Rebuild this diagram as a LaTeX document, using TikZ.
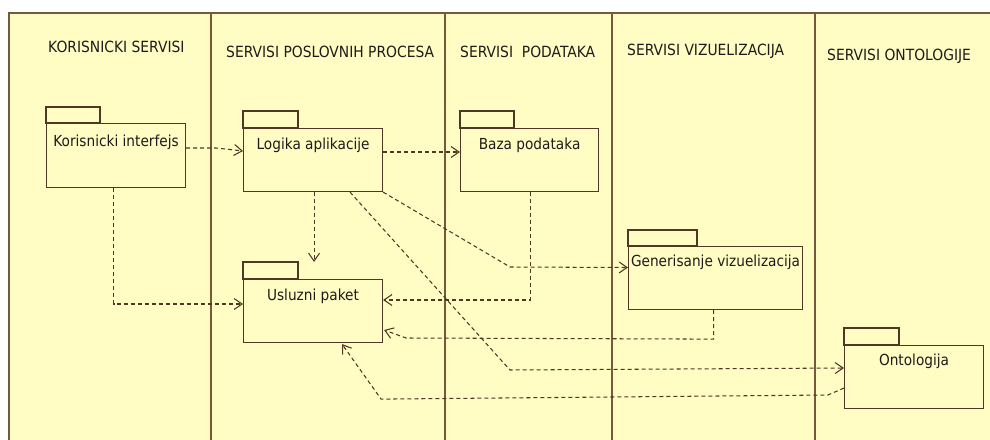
\documentclass[tikz,border=0pt]{standalone}
\usepackage{fontspec}
\setmainfont{DejaVu Sans}[FakeStretch=0.9]
\usetikzlibrary{arrows.meta,calc}
\definecolor{bgyellow}{RGB}{255,252,196}
\definecolor{framebrown}{RGB}{118,88,58}
\definecolor{linebrown}{RGB}{80,55,35}
\definecolor{txt}{RGB}{30,28,25}
\begin{document}
\begin{tikzpicture}[x=1pt,y=-1pt,
  frame/.style={draw=framebrown,line width=1.3pt},
  pkg/.style={draw=linebrown,fill=bgyellow,line width=1.1pt,inner sep=0pt,anchor=north west},
  tabbox/.style={draw=linebrown,fill=bgyellow,line width=1.1pt},
  pkgtext/.style={anchor=base,text=txt,inner sep=0pt,font=\fontsize{15.2}{18}\selectfont},
  lanetitle/.style={anchor=west,text=txt,inner sep=0pt,font=\fontsize{15.4}{18}\selectfont},
  dep/.style={draw=linebrown,line width=1.05pt,dash pattern=on 4pt off 3pt,
              -{Straight Barb[length=8pt,width=11pt,line width=1.05pt]}}]
\useasboundingbox (0,0) rectangle (990,439);
\clip (0,0) rectangle (990,439);
\fill[white] (0,0) rectangle (990,439);
% frame and swimlanes
\path[frame,fill=bgyellow] (9,13) rectangle (1000,450);
\draw[frame] (211,13) -- (211,450);
\draw[frame] (445,13) -- (445,450);
\draw[frame] (612,13) -- (612,450);
\draw[frame] (815,13) -- (815,450);
% lane titles
\node[lanetitle] (t1) at (48,47) {KORISNICKI SERVISI};
\node[lanetitle] (t2) at (226,51.5) {SERVISI POSLOVNIH PROCESA};
\node[lanetitle] (t3) at (460,51.5) {SERVISI\ \ PODATAKA};
\node[lanetitle] (t4) at (627,51.5) {SERVISI VIZUELIZACIJA};
\node[lanetitle] (t5) at (827,56) {SERVISI ONTOLOGIJE};
% packages
\node[pkg,minimum width=139pt,minimum height=64pt] (KI) at (46,123) {};
\draw[tabbox] (KI.north west) rectangle ++(54,-16);
\node[pkgtext] (KIt) at ($(KI.north)+(0,23.5)$) {Korisnicki interfejs};

\node[pkg,minimum width=139pt,minimum height=63pt] (LA) at (243,128) {};
\draw[tabbox] (LA.north west) rectangle ++(55,-17);
\node[pkgtext] (LAt) at ($(LA.north)+(0,21.5)$) {Logika aplikacije};

\node[pkg,minimum width=138pt,minimum height=63pt] (BP) at (460,128) {};
\draw[tabbox] (BP.north west) rectangle ++(54,-17);
\node[pkgtext] (BPt) at ($(BP.north)+(0,21.3)$) {Baza podataka};

\node[pkg,minimum width=139pt,minimum height=63pt] (UP) at (243,279) {};
\draw[tabbox] (UP.north west) rectangle ++(55,-17);
\node[pkgtext] (UPt) at ($(UP.north)+(0,21)$) {Usluzni paket};

\node[pkg,minimum width=174pt,minimum height=63pt] (GV) at (628,246) {};
\draw[tabbox] (GV.north west) rectangle ++(69,-16);
\node[pkgtext] (GVt) at ($(GV.north)+(0,20.7)$) {Generisanje vizuelizacija};

\node[pkg,minimum width=139pt,minimum height=63pt] (ON) at (844,345) {};
\draw[tabbox] (ON.north west) rectangle ++(55,-17);
\node[pkgtext] (ONt) at ($(ON.north)+(0,20.7)$) {Ontologija};

% dependencies
\draw[dep] ($(KI.north east)+(0,25)$) -- ($(KI.north east)+(30,25)$) -- ($(LA.north west)+(0,23)$);
\draw[dep] ($(LA.north east)+(0,24)$) -- ($(BP.north west)+(0,24)$);
\draw[dep] ($(LA.south)+(1,0)$) -- ($(UP.north)+(1,-17)$);
\draw[dep] ($(KI.south)+(-2.5,0)$) |- ($(UP.north west)+(0,25)$);
\draw[dep] ($(BP.south)+(1,0)$) |- ($(UP.north east)+(0,21)$);
\draw[dep] (LA.south east) -- ($(GV.north west)+(-118,21)$) -- ($(GV.north west)+(0,21.5)$);
\draw[dep] ($(LA.south west)+(107,0)$) -- ($(ON.north west)+(-334,25)$) -- ($(ON.north west)+(0,23)$);
\draw[dep] ($(GV.south)+(-2,0)$) -- ++(0,29) -- ($(UP.north east)+(23,59)$) -- ($(UP.north east)+(1,51)$);
\draw[dep] ($(ON.north west)+(0,43)$) -- ++(-16,7) -- ($(UP.south east)+(-2,56)$) -- ($(UP.south west)+(99,1)$);
\end{tikzpicture}
\end{document}
